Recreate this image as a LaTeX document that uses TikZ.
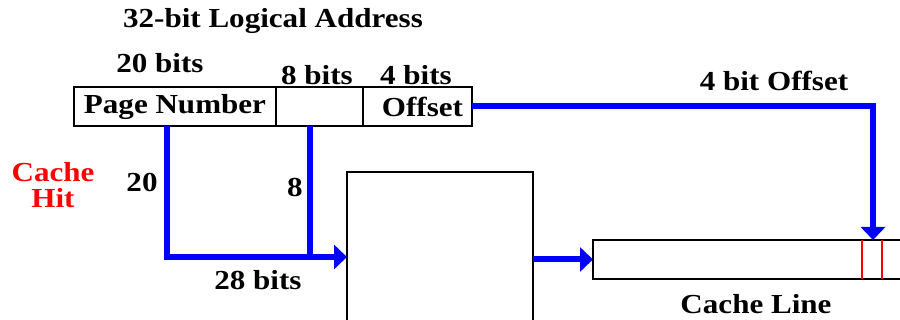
\documentclass[tikz,border=0pt]{standalone}
\usepackage{fontspec}
\setmainfont{Liberation Serif}[FakeStretch=1.13]
\usetikzlibrary{arrows.meta,positioning}

\begin{document}
\begin{tikzpicture}[x=1pt,y=-1pt,
  txt/.style={font=\bfseries\fontsize{27.5}{26}\selectfont},
  lbl/.style={txt,inner sep=0pt},
  field/.style={txt,draw,line width=1.8pt,outer sep=0pt,inner sep=0pt,minimum height=39pt},
  bus/.style={draw=blue,line width=6pt,-{Triangle[length=13pt,width=24pt]}}]
\useasboundingbox (0,0) rectangle (900,320);
% logical address
\node[field,minimum width=202pt,anchor=north west] (pg) at (74,87) {Page Number};
\node[field,minimum width=87pt,right=0pt of pg] (mid) {};
\node[field,minimum width=109pt,right=0pt of mid] (off) {\hspace{10pt}Offset};
\node[lbl] (title) at (273,21) {32-bit Logical Address};
\node[lbl] (w20) at (160,63) {20 bits};
\node[lbl] (w8) at (317,75) {8 bits};
\node[lbl] (w4) at (416,75) {4 bits};
% lookup and cache line
\node[field,minimum width=186pt,minimum height=170pt,anchor=north west] (tlb) at (347,172) {};
\node[field,minimum width=340pt,anchor=north west] (cline) at (593,240) {};
\foreach \x in {862,882}
  \draw[red,line width=2.6pt] (cline.north -| \x,0) -- (cline.south -| \x,0);
% labels
\node[lbl] (offlbl) at (774,81) {4 bit Offset};
\node[lbl,text=red,align=center] (hit) at (53,185) {Cache\\Hit};
\node[lbl] (n20) at (142,182) {20};
\node[lbl] (n8) at (295,187) {8};
\node[lbl] (n28) at (258,280) {28 bits};
\node[lbl] (cllbl) at (756,304) {Cache Line};
% buses
\coordinate (j20) at (167,257);
\coordinate (j8) at (310,257);
\coordinate (oft) at (873,0);
\draw[bus] (off.east) -| (cline.north -| oft);
\draw[bus] (pg.south -| j20) |- (tlb.west |- j20);
\draw[bus,-] (mid.south -| j8) -- (j8);
\draw[bus] (tlb.east |- cline.west) -- (cline.west);
\end{tikzpicture}
\end{document}
